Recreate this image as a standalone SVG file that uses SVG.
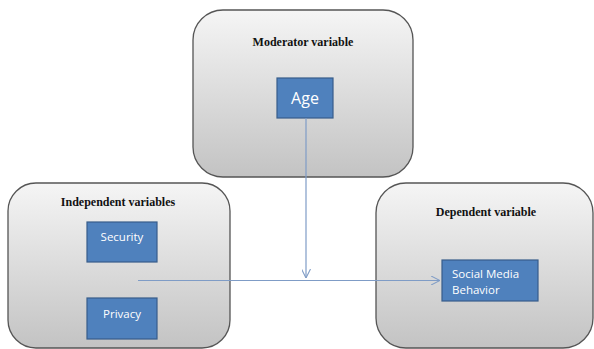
<svg xmlns="http://www.w3.org/2000/svg" width="594" height="349" viewBox="0 0 594 349">
<defs>
<linearGradient id="g" x1="0" y1="0" x2="0" y2="1">
<stop offset="0" stop-color="#f5f5f5"/>
<stop offset="1" stop-color="#c3c3c3"/>
</linearGradient>
<marker id="arr" viewBox="0 0 10 10" refX="10" refY="5" markerWidth="9" markerHeight="9" orient="auto" markerUnits="userSpaceOnUse">
<path d="M0,0 L10,5 L0,10" fill="none" stroke="#7f9cc6" stroke-width="1.2"/>
</marker>
</defs>
<style>
.panel{fill:url(#g);stroke:#555;stroke-width:1.3}
.title{font-family:"Liberation Serif",serif;font-weight:bold;font-size:12px;fill:#111;text-anchor:middle}
.var{fill:#4f81bd;stroke:#385d8a;stroke-width:1.2}
.vt{font-family:"Open Sans","Liberation Sans",sans-serif;font-size:11.5px;fill:#fff}
.conn{fill:none;stroke:#7f9cc6;stroke-width:1.2}
</style>
<rect width="594" height="349" fill="#fff"/>
<g id="moderator">
<rect class="panel" x="193" y="10" width="220" height="167" rx="30"/>
<text class="title" x="303" y="46">Moderator variable</text>
<rect class="var" x="277" y="78" width="56" height="40"/>
<text class="vt" x="305" y="104" text-anchor="middle" style="font-size:16px">Age</text>
</g>
<g id="independent">
<rect class="panel" x="8" y="183" width="222" height="165" rx="28"/>
<text class="title" x="118" y="206">Independent variables</text>
<rect class="var" x="87" y="222" width="70" height="40"/>
<text class="vt" x="122" y="241" text-anchor="middle">Security</text>
<rect class="var" x="87" y="298" width="70" height="41"/>
<text class="vt" x="122" y="318" text-anchor="middle">Privacy</text>
</g>
<g id="dependent">
<rect class="panel" x="376" y="183" width="217" height="165" rx="30"/>
<text class="title" x="486" y="216">Dependent variable</text>
<rect class="var" x="442" y="260" width="96" height="41"/>
<text class="vt" x="452" y="278">Social Media</text>
<text class="vt" x="452" y="294">Behavior</text>
</g>
<g id="connectors">
<path class="conn" d="M306,118 V278" marker-end="url(#arr)"/>
<path class="conn" d="M138,280.5 H440" marker-end="url(#arr)"/>
</g>
</svg>
